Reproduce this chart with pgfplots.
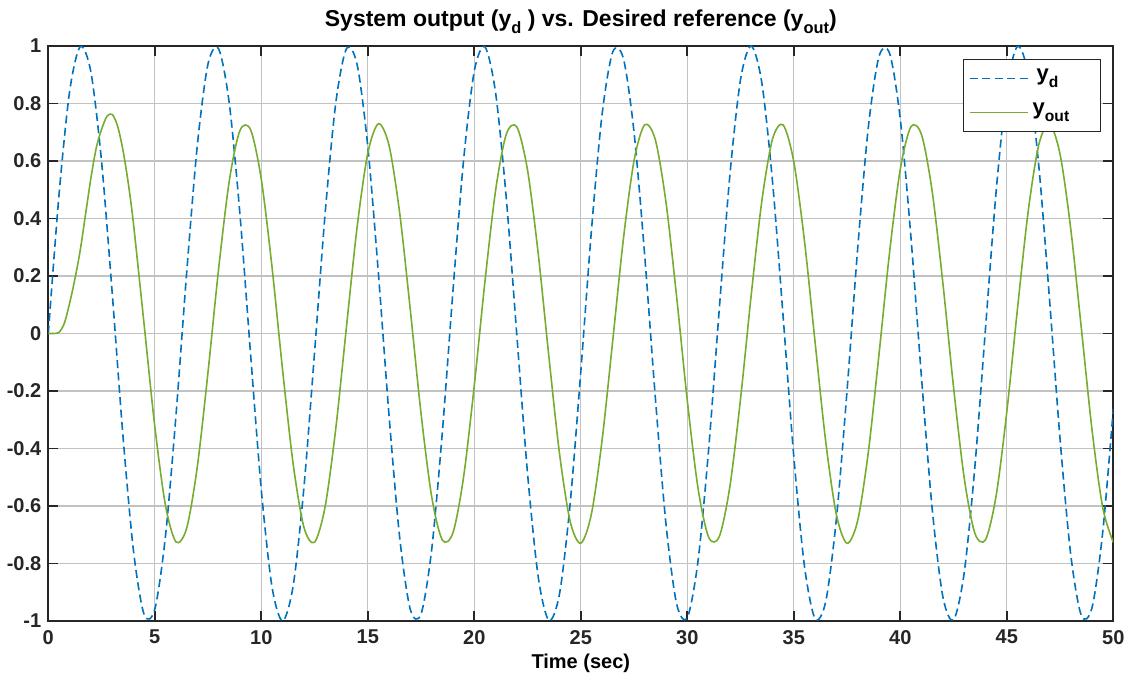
\documentclass[border=0pt]{standalone}
\usepackage{fontspec}
\setmainfont{Liberation Sans}
\usepackage{pgfplots}
\usepackage{pgfplotstable}
\pgfplotsset{compat=1.18}
\definecolor{mblue}{rgb}{0,0.447,0.741}
\definecolor{mgreen}{rgb}{0.467,0.675,0.188}
\definecolor{axgray}{rgb}{0.15,0.15,0.15}
\definecolor{gridgray}{rgb}{0.76,0.76,0.76}
\newcommand\lsub[1]{\raisebox{-3.5pt}{\fontsize{7.8}{9}\selectfont #1}}
\newcommand\tsub[1]{\raisebox{-3.5pt}{\fontsize{8.2}{9}\selectfont #1}}

\pgfplotstableread{
t yd
0 0
0.5 0.4794
1 0.8415
1.5 0.9975
2 0.9093
2.5 0.5985
3 0.1411
3.5 -0.3508
4 -0.7568
4.5 -0.9775
5 -0.9589
5.5 -0.7055
6 -0.2794
6.5 0.2151
7 0.6570
7.5 0.9380
8 0.9894
8.5 0.7985
9 0.4121
9.5 -0.0752
10 -0.5440
10.5 -0.8797
11 -1.0000
11.5 -0.8755
12 -0.5366
12.5 -0.0663
13 0.4202
13.5 0.8038
14 0.9906
14.5 0.9348
15 0.6503
15.5 0.2065
16 -0.2879
16.5 -0.7118
17 -0.9614
17.5 -0.9756
18 -0.7510
18.5 -0.3425
19 0.1499
19.5 0.6055
20 0.9129
20.5 0.9968
21 0.8367
21.5 0.4716
22 -0.0088
22.5 -0.4872
23 -0.8462
23.5 -0.9981
24 -0.9056
24.5 -0.5914
25 -0.1324
25.5 0.3591
26 0.7626
26.5 0.9794
27 0.9564
27.5 0.6992
28 0.2709
28.5 -0.2237
29 -0.6636
29.5 -0.9410
30 -0.9880
30.5 -0.7931
31 -0.4040
31.5 0.0840
32 0.5514
32.5 0.8838
33 0.9999
33.5 0.8711
34 0.5291
34.5 0.0575
35 -0.4282
35.5 -0.8090
36 -0.9918
36.5 -0.9318
37 -0.6435
37.5 -0.1978
38 0.2964
38.5 0.7180
39 0.9638
39.5 0.9736
40 0.7451
40.5 0.3341
41 -0.1586
41.5 -0.6125
42 -0.9165
42.5 -0.9961
43 -0.8317
43.5 -0.4638
44 0.0177
44.5 0.4949
45 0.8509
45.5 0.9986
46 0.9018
46.5 0.5843
47 0.1236
47.5 -0.3673
48 -0.7683
48.5 -0.9811
49 -0.9538
49.5 -0.6929
50 -0.2624
}\ydtable

\pgfplotstableread{
t yout
0 0
0.25 0
0.5 0.004
0.75 0.035
1 0.105
1.25 0.19
1.5 0.29
1.75 0.415
2 0.54
2.25 0.645
2.5 0.71
2.75 0.755
3 0.762
3.25 0.722
3.5 0.640
3.75 0.525
4 0.381
4.5 0.0304
5 -0.3230
5.5 -0.5974
6 -0.7254
6.5 -0.6760
7 -0.4608
7.5 -0.1330
8 0.2274
8.5 0.5322
9 0.7067
9.5 0.7081
10 0.5361
10.5 0.2329
11 -0.1272
11.5 -0.4563
12 -0.6736
12.5 -0.7261
13 -0.6008
13.5 -0.3283
14 0.0245
14.5 0.3714
15 0.6274
15.5 0.7295
16 0.6532
16.5 0.4170
17 0.0787
17.5 -0.2789
18 -0.5681
18.5 -0.7184
19 -0.6926
19.5 -0.4975
20 -0.1803
20.5 0.1809
21 0.4979
21.5 0.6928
22 0.7182
22.5 0.5677
23 0.2783
23.5 -0.0793
24 -0.4175
24.5 -0.6535
25 -0.7295
25.5 -0.6271
26 -0.3708
26.5 -0.0239
27 0.3289
27.5 0.6012
28 0.7261
28.5 0.6734
29 0.4558
29.5 0.1266
30 -0.2336
30.5 -0.5366
31 -0.7082
31.5 -0.7066
32 -0.5317
32.5 -0.2268
33 0.1337
33.5 0.4613
34 0.6762
34.5 0.7253
35 0.5970
35.5 0.3224
36 -0.0310
36.5 -0.3769
37 -0.6306
37.5 -0.7297
38 -0.6503
38.5 -0.4116
39 -0.0722
39.5 0.2848
40 0.5722
40.5 0.7195
41 0.6906
41.5 0.4925
42 0.1740
42.5 -0.1872
43 -0.5025
43.5 -0.6947
44 -0.7172
44.5 -0.5637
45 -0.2724
45.5 0.0857
46 0.4227
46.5 0.6562
47 0.7292
47.5 0.6236
48 0.3652
48.5 0.0174
49 -0.3346
49.5 -0.6046
50 -0.7267
}\youttable

\begin{document}
\begin{tikzpicture}
\begin{axis}[
  name=ax,
  scale only axis,
  width=532.5pt, height=287.5pt,
  xmin=0, xmax=50, ymin=-1, ymax=1,
  xtick={0,5,10,15,20,25,30,35,40,45,50},
  ytick={-1,-0.8,-0.6,-0.4,-0.2,0,0.2,0.4,0.6,0.8,1},
  yticklabels={-1,-0.8,-0.6,-0.4,-0.2,0,0.2,0.4,0.6,0.8,1},
  tick align=inside,
  tick pos=both,
  major tick length=5pt,
  grid=major,
  major grid style={gridgray, line width=0.6pt},
  axis line style={axgray, line width=0.9pt},
  every tick/.style={axgray, line width=0.9pt},
  /pgf/number format/assume math mode=true,
  ticklabel style={font=\bfseries\fontsize{10}{12}\selectfont, text=axgray},
  xticklabel style={yshift=-1pt},
  title={System output (y\tsub{d} ) vs. Desired reference (y\tsub{out})},
  title style={font=\bfseries\fontsize{11.5}{13}\selectfont, yshift=-3.5pt},
  xlabel={Time (sec)},
  xlabel style={font=\bfseries\fontsize{10}{12}\selectfont, yshift=2pt},
  legend style={at={(1,1)}, anchor=north east, xshift=-6pt, yshift=-6.5pt,
    draw=axgray, line width=0.6pt, fill=white,
    inner xsep=3pt, inner ysep=1pt,
    font=\bfseries\fontsize{11}{13}\selectfont,
    nodes={inner sep=1.5pt, text height=8pt, text depth=6pt}},
  legend cell align=left,
  legend image code/.code={\draw[#1] (0pt,0pt) -- (29pt,0pt);},
]
\addplot[mblue, line width=0.8pt, dash pattern=on 4pt off 2.2pt, smooth] table[x=t, y=yd] {\ydtable};
\addlegendentry{\makebox[30pt][l]{\hspace{2.5pt}y\lsub{d}}}
\addplot[mgreen, line width=0.8pt, smooth] table[x=t, y=yout] {\youttable};
\addlegendentry{\makebox[30pt][l]{\hspace{0.5pt}y\lsub{out}}}
\end{axis}
\pgfresetboundingbox
\path[use as bounding box] ([xshift=-24.15pt,yshift=-28.5pt]ax.south west) rectangle ([xshift=8.35pt,yshift=23pt]ax.north east);
\end{tikzpicture}
\end{document}
